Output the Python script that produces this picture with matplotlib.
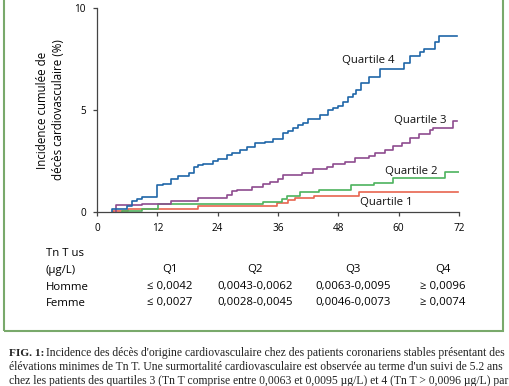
import numpy as np
import matplotlib
matplotlib.use("Agg")
import matplotlib.pyplot as plt
from matplotlib.patches import Rectangle

plt.rcParams['font.family'] = ['Open Sans', 'DejaVu Sans']

# months / cumulative incidence (%)
t4 = [2.9, 5.9, 6.9, 7.9, 8.9, 12, 13.2, 14.8, 16.2, 18.2, 19.2, 20.1, 21.1, 23.1, 24.1,
      25.8, 26.8, 28.4, 29.8, 31.4, 33.4, 35, 37, 38, 39, 40, 41, 42, 44.3, 46, 47, 48,
      49, 50, 51, 51.6, 52.6, 54, 56.3, 61, 62.2, 64.2, 65, 67.2, 68, 71.6]
v4 = [0.15, 0.29, 0.53, 0.62, 0.73, 1.32, 1.38, 1.6, 1.76, 1.92, 2.2, 2.28, 2.36, 2.52, 2.6,
      2.79, 2.9, 3.03, 3.2, 3.36, 3.44, 3.6, 3.85, 3.96, 4.12, 4.25, 4.37, 4.55, 4.75, 4.99, 5.1, 5.19,
      5.4, 5.64, 5.8, 5.97, 6.3, 6.6, 7.0, 7.29, 7.64, 7.85, 8.0, 8.33, 8.63, 8.63]

t3 = [3.7, 8.9, 14.8, 20.1, 25.8, 26.8, 27.8, 30.9, 33.1, 34.4, 36, 37, 40.8, 43, 45.7, 47,
      49.3, 51.3, 54.1, 55.3, 57.3, 58.9, 60.6, 62.2, 64.1, 66.2, 66.9, 70.8, 71.7]
v3 = [0.32, 0.38, 0.55, 0.68, 0.84, 1.02, 1.1, 1.24, 1.37, 1.45, 1.6, 1.81, 1.89, 2.09, 2.19, 2.36,
      2.46, 2.63, 2.74, 2.9, 3.03, 3.23, 3.39, 3.65, 3.81, 4.0, 4.1, 4.47, 4.47]

t2 = [4.9, 8.9, 12.1, 33.1, 36.7, 37.7, 40.4, 44.2, 50.6, 55, 58.9, 69.2, 72]
v2 = [0.05, 0.14, 0.4, 0.48, 0.64, 0.78, 1.0, 1.1, 1.32, 1.43, 1.65, 1.97, 1.97]

t1 = [3.2, 6.2, 9.2, 20.1, 35.8, 37.9, 39.3, 43.1, 52.1, 71.8]
v1 = [0.03, 0.13, 0.17, 0.3, 0.45, 0.58, 0.68, 0.8, 1.0, 1.0]

labels = ["Quartile 1", "Quartile 2", "Quartile 3", "Quartile 4"]
colors = ["#e8654f", "#4db35e", "#8e4b8f", "#1f66a8"]
label_pos = [(57.6, 0.45), (62.5, 2.0), (64.2, 4.5), (54.0, 7.45)]

quart = ["Q1", "Q2", "Q3", "Q4"]
homme = ["≤ 0,0042", "0,0043-0,0062", "0,0063-0,0095", "≥ 0,0096"]
femme = ["≤ 0,0027", "0,0028-0,0045", "0,0046-0,0073", "≥ 0,0074"]

caption = [
    "Incidence des décès d'origine cardiovasculaire chez des patients coronariens stables présentant des",
    "élévations minimes de Tn T. Une surmortalité cardiovasculaire est observée au terme d'un suivi de 5.2 ans",
    "chez les patients des quartiles 3 (Tn T comprise entre 0,0063 et 0,0095 µg/L) et 4 (Tn T > 0,0096 µg/L) par",
]

W, H = 509, 386
fig = plt.figure(figsize=(W / 100, H / 100), dpi=100)
ax = fig.add_axes([97 / W, 1 - 212 / H, (459 - 97) / W, (212 - 8) / H])

series = [(t1, v1), (t2, v2), (t3, v3), (t4, v4)]
for (t, v), c, lab, (lx, ly) in zip(series, colors, labels, label_pos):
    ax.step(np.r_[t[0], t], np.r_[0, v], where='post', color=c, lw=1.2)
    ax.text(lx, ly, lab, fontsize=8.2, ha='center', va='center', color='#111111')

ax.set_xlim(0, 72)
ax.set_ylim(0, 10)
ax.set_xticks([0, 12, 24, 36, 48, 60, 72])
ax.set_yticks([0, 5, 10])
for s in ['top', 'right']:
    ax.spines[s].set_visible(False)
for s in ['left', 'bottom']:
    ax.spines[s].set_color('#444444')
    ax.spines[s].set_linewidth(0.9)
ax.tick_params(labelsize=7.2, length=3, width=0.9, color='#444444', pad=5)
ax.set_ylabel("Incidence cumulée de\ndécès cardiovasculaire (%)", fontsize=8.3, labelpad=7,
              linespacing=1.25)

# table under the x axis
def fx(px):
    return px / W

def fy(py):
    return 1 - py / H

fs = 8.2
fig.text(fx(46), fy(253), "Tn T us", fontsize=fs, va='center')
fig.text(fx(46), fy(270), "(µg/L)", fontsize=fs, va='center')
fig.text(fx(46), fy(287), "Homme", fontsize=fs, va='center')
fig.text(fx(46), fy(303), "Femme", fontsize=fs, va='center')
col_x = [170, 255, 353, 443]
for cx, q, h, f in zip(col_x, quart, homme, femme):
    fig.text(fx(cx), fy(270), q, fontsize=fs, ha='center', va='center')
    fig.text(fx(cx), fy(287), h, fontsize=fs, ha='center', va='center')
    fig.text(fx(cx), fy(303), f, fontsize=fs, ha='center', va='center')

# green frame (top is cut off in the original)
fig.add_artist(Rectangle((fx(4), fy(331)), fx(503) - fx(4), 1.0, transform=fig.transFigure,
                         fill=False, edgecolor='#79a96b', lw=1.5, clip_on=False))

# caption
fig.text(fx(9), fy(353), "FIG. 1:", fontsize=8.2, fontweight='bold', family='Liberation Serif',
         va='center', color='#222222')
for i, line in enumerate(caption):
    x0 = 46 if i == 0 else 9
    fig.text(fx(x0), fy(353 + 14 * i), line, fontsize=8.4, family='Liberation Serif',
             va='center', color='#222222')

fig.savefig("out.png", dpi=100)
